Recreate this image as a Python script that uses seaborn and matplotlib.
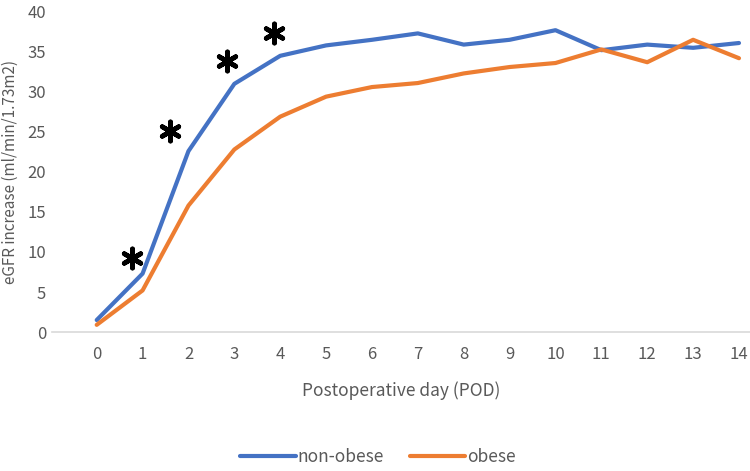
import pandas as pd
import numpy as np
import matplotlib
matplotlib.use('Agg')
import matplotlib.pyplot as plt
import seaborn as sns

# values
pod = list(range(15))
non_obese = [1.5, 7.3, 22.6, 31.0, 34.5, 35.8, 36.5, 37.3, 35.9, 36.5, 37.7, 35.2, 35.9, 35.5, 36.1]
obese = [0.9, 5.2, 15.8, 22.8, 26.9, 29.4, 30.6, 31.1, 32.3, 33.1, 33.6, 35.3, 33.7, 36.5, 34.2]

# significance markers
star_x = [0.76, 1.6, 2.85, 3.87]
star_y = [9.3, 25.1, 33.9, 37.3]

df = pd.DataFrame({
    'POD': pod * 2,
    'eGFR': non_obese + obese,
    'group': ['non-obese'] * len(pod) + ['obese'] * len(pod),
})

sns.set_style('white')
plt.rcParams['font.family'] = ['Noto Sans CJK JP', 'DejaVu Sans']
grey = '#595959'

fig = plt.figure(figsize=(7.5, 4.71), dpi=100)
ax = fig.add_axes([0.069, 0.295, 0.931, 0.68])

sns.lineplot(data=df, x='POD', y='eGFR', hue='group',
             palette={'non-obese': '#4472C4', 'obese': '#ED7D31'},
             linewidth=3, ax=ax, legend=True)

# asterisks
ax.scatter(star_x, star_y, marker=(6, 2, 0), s=190, linewidths=3.4,
           color='black', zorder=5)

ax.set_xlim(-0.98, 14.24)
ax.set_ylim(0, 40)
ax.set_xticks(pod)
ax.set_yticks(range(0, 41, 5))
ax.tick_params(axis='both', colors=grey, labelsize=12, length=0)
ax.tick_params(axis='x', pad=10)
ax.tick_params(axis='y', pad=4)

for s in ['top', 'right', 'left']:
    ax.spines[s].set_visible(False)
ax.spines['bottom'].set_color('#D9D9D9')
ax.spines['bottom'].set_linewidth(1.2)

ax.set_xlabel('Postoperative day (POD)', color=grey, fontsize=12.5, labelpad=13)
ax.set_ylabel('eGFR increase (ml/min/1.73m2)', color=grey, fontsize=11, labelpad=6)

ax.legend(loc='center', bbox_to_anchor=(0.467, -0.39), ncol=2, frameon=False,
          fontsize=12.5, handlelength=3.2, handletextpad=0.1, columnspacing=1.5,
          labelcolor=grey)

fig.savefig('out.png', dpi=100)
